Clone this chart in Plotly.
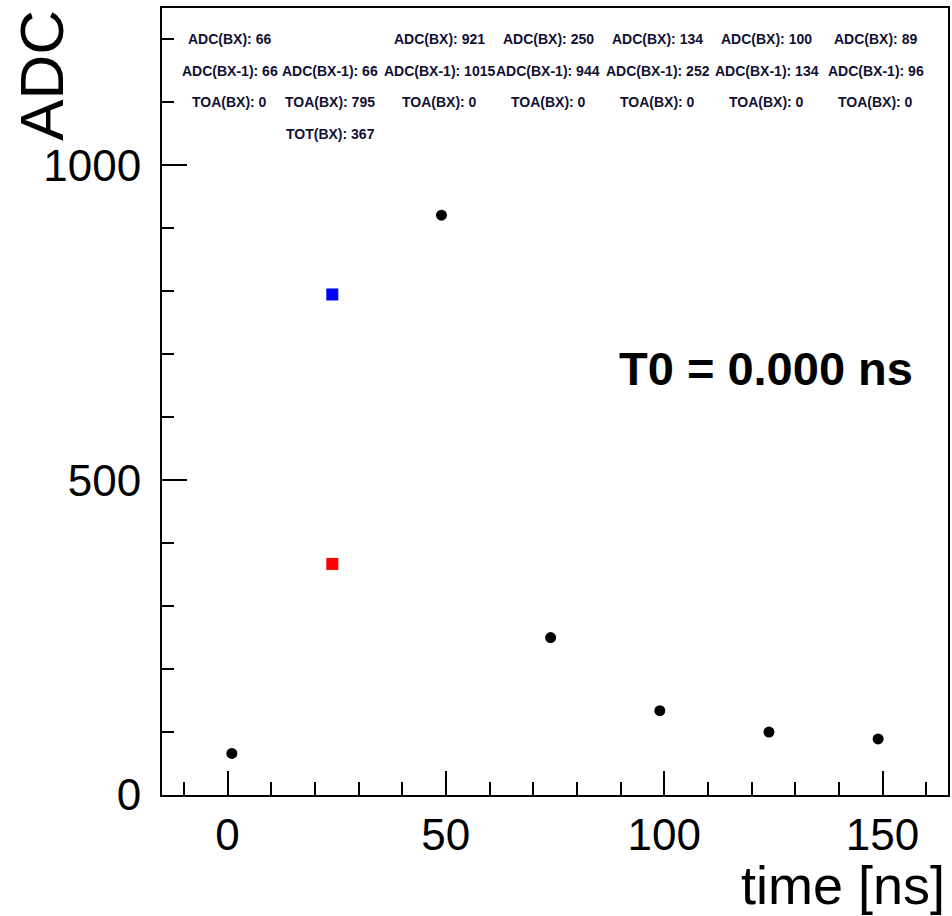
import plotly.graph_objects as go

# Data
bx_time = [1, 24, 49, 74, 99, 124, 149]
adc_time = [1, 49, 74, 99, 124, 149]
adc_bx = [66, 921, 250, 134, 100, 89]
toa_time = [24]
toa_val = [795]
tot_time = [24]
tot_val = [367]

label_adc = ["ADC(BX): 66", "", "ADC(BX): 921", "ADC(BX): 250", "ADC(BX): 134", "ADC(BX): 100", "ADC(BX): 89"]
label_adc1 = ["ADC(BX-1): 66", "ADC(BX-1): 66", "ADC(BX-1): 1015", "ADC(BX-1): 944", "ADC(BX-1): 252", "ADC(BX-1): 134", "ADC(BX-1): 96"]
label_toa = ["TOA(BX): 0", "TOA(BX): 795", "TOA(BX): 0", "TOA(BX): 0", "TOA(BX): 0", "TOA(BX): 0", "TOA(BX): 0"]
label_tot = ["", "TOT(BX): 367", "", "", "", "", ""]
label_rows = [1200, 1150, 1100, 1050]

x_range = [-15, 165]
y_range = [0, 1250]
x_ticks = [0, 50, 100, 150]
y_ticks = [0, 500, 1000]

FONT = "Liberation Sans, Arial, Helvetica, sans-serif"

fig = go.Figure()
fig.add_trace(go.Scatter(x=adc_time, y=adc_bx, mode="markers",
                         marker=dict(symbol="circle", size=11, color="black"),
                         showlegend=False))
fig.add_trace(go.Scatter(x=toa_time, y=toa_val, mode="markers",
                         marker=dict(symbol="square", size=12, color="#0000ff"),
                         showlegend=False))
fig.add_trace(go.Scatter(x=tot_time, y=tot_val, mode="markers",
                         marker=dict(symbol="square", size=12, color="#ff0000"),
                         showlegend=False))

annotations = []
for row_labels, yv in zip([label_adc, label_adc1, label_toa, label_tot], label_rows):
    for xv, txt in zip(bx_time, row_labels):
        if txt:
            annotations.append(dict(x=xv - 0.5, y=yv, xref="x", yref="y", text="<b>%s</b>" % txt,
                                    showarrow=False, xanchor="center", yanchor="middle",
                                    font=dict(family=FONT, size=14, color="#111133")))

annotations.append(dict(x=123.4, y=678, xref="x", yref="y", text="<b>T0 = 0.000 ns</b>",
                        showarrow=False, xanchor="center", yanchor="middle",
                        font=dict(family=FONT, size=47, color="black")))
annotations.append(dict(x=0.999, y=-0.114, xref="paper", yref="paper", text="time [ns]",
                        showarrow=False, xanchor="right", yanchor="middle",
                        font=dict(family=FONT, size=54, color="black")))
annotations.append(dict(x=-0.1536, y=1.0, xref="paper", yref="paper", text="ADC",
                        textangle=-90, showarrow=False, xanchor="center", yanchor="top",
                        font=dict(family=FONT, size=62, color="black")))

fig.update_layout(
    width=952, height=916,
    margin=dict(l=162, r=2, t=8, b=121),
    paper_bgcolor="white", plot_bgcolor="white",
    annotations=annotations,
    font=dict(family=FONT, color="black"),
)
fig.update_xaxes(range=x_range, tickvals=x_ticks, ticks="inside", ticklen=24, tickwidth=2,
                 tickcolor="black", showline=True, linecolor="black", linewidth=2, mirror=True,
                 showgrid=False, zeroline=False, tickfont=dict(family=FONT, size=44, color="black"),
                 minor=dict(dtick=10, tick0=0, ticks="inside", ticklen=13, tickwidth=2, tickcolor="black", showgrid=False))
fig.update_yaxes(range=y_range, tickvals=y_ticks, ticks="inside", ticklen=25, tickwidth=2,
                 tickcolor="black", showline=True, linecolor="black", linewidth=2, mirror=True,
                 showgrid=False, zeroline=False, tickfont=dict(family=FONT, size=44, color="black"),
                 ticklabelstandoff=10,
                 minor=dict(dtick=100, tick0=0, ticks="inside", ticklen=12, tickwidth=2, tickcolor="black", showgrid=False))

fig.write_html("out.html", config={"displayModeBar": False},
               post_script="document.body.style.margin='0px';document.body.style.overflow='hidden';")
